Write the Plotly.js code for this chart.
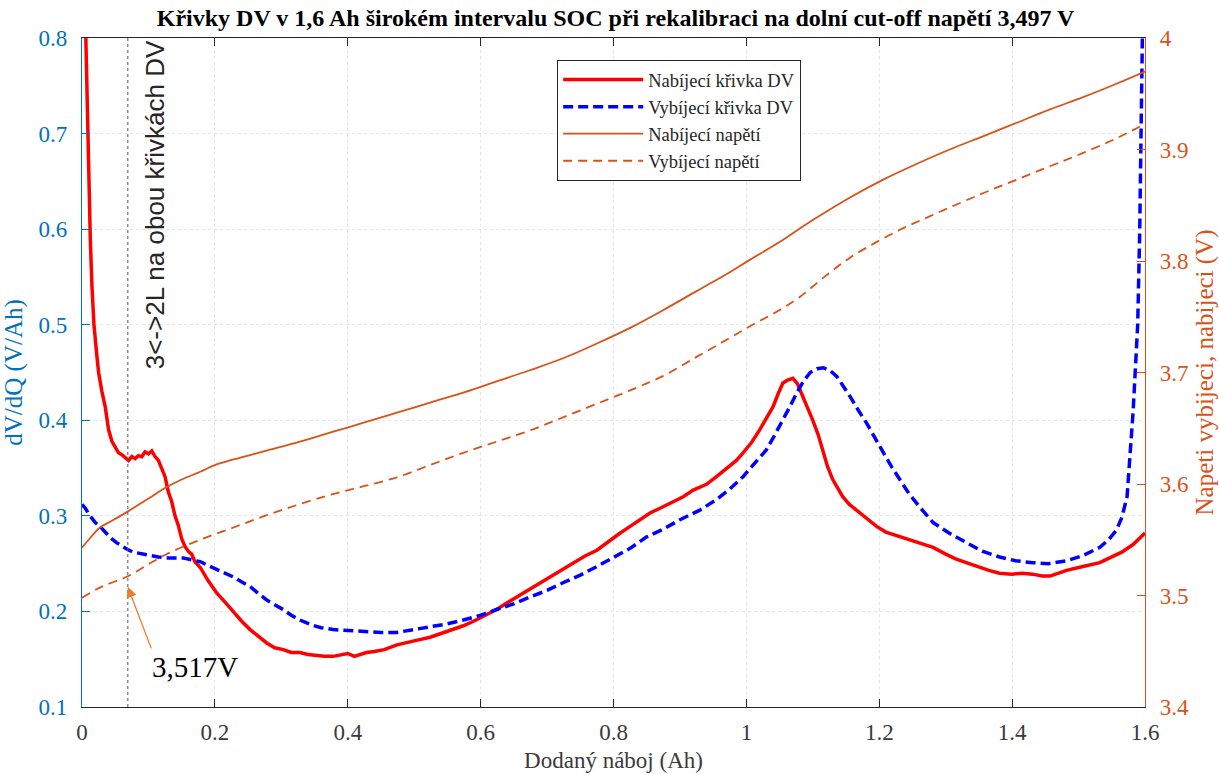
<!DOCTYPE html>
<html>
<head>
<meta charset="utf-8">
<script src="https://cdn.plot.ly/plotly-3.0.1.min.js"></script>
<style>html,body{margin:0;padding:0;background:#fff;}#chart{width:1219px;height:774px;}</style>
</head>
<body>
<div id="chart"></div>
<script>
// Charging DV curve (left axis, V/Ah)
const chargeDvQ = [0,0.004,0.006,0.009,0.0125,0.015,0.018,0.022,0.025,0.03,0.035,0.04,0.045,0.05,0.055,0.06,0.065,0.07,0.075,0.08,0.085,0.09,0.095,0.10,0.105,0.11,0.115,0.12,0.125,0.13,0.135,0.14,0.145,0.15,0.155,0.16,0.165,0.17,0.178,0.19,0.203,0.215,0.228,0.24,0.253,0.265,0.278,0.29,0.303,0.315,0.328,0.34,0.353,0.365,0.378,0.39,0.40,0.41,0.428,0.44,0.455,0.474,0.49,0.505,0.524,0.54,0.557,0.574,0.59,0.607,0.624,0.64,0.657,0.674,0.69,0.707,0.724,0.74,0.757,0.775,0.79,0.808,0.825,0.84,0.855,0.87,0.885,0.905,0.92,0.94,0.955,0.97,0.985,0.995,1.008,1.02,1.03,1.04,1.048,1.055,1.062,1.07,1.077,1.085,1.092,1.10,1.108,1.115,1.122,1.13,1.138,1.145,1.155,1.166,1.18,1.196,1.21,1.227,1.245,1.264,1.281,1.30,1.315,1.331,1.35,1.365,1.381,1.40,1.415,1.431,1.445,1.457,1.47,1.482,1.50,1.515,1.532,1.55,1.565,1.582,1.592,1.60];
const chargeDv = [0.98,0.86,0.80,0.68,0.59,0.54,0.50,0.47,0.45,0.43,0.414,0.39,0.378,0.372,0.366,0.364,0.361,0.358,0.362,0.360,0.363,0.362,0.367,0.365,0.368,0.362,0.358,0.350,0.341,0.325,0.315,0.300,0.290,0.276,0.268,0.263,0.260,0.252,0.246,0.232,0.219,0.210,0.199,0.190,0.181,0.174,0.167,0.162,0.160,0.157,0.157,0.155,0.154,0.153,0.153,0.155,0.156,0.153,0.157,0.158,0.160,0.165,0.168,0.170,0.173,0.177,0.181,0.185,0.190,0.196,0.202,0.209,0.216,0.223,0.230,0.237,0.244,0.251,0.258,0.264,0.272,0.281,0.289,0.296,0.303,0.308,0.313,0.320,0.327,0.333,0.341,0.350,0.358,0.366,0.377,0.390,0.402,0.414,0.428,0.439,0.442,0.444,0.438,0.425,0.413,0.400,0.385,0.369,0.352,0.338,0.328,0.320,0.312,0.306,0.298,0.289,0.283,0.279,0.275,0.271,0.267,0.260,0.255,0.251,0.246,0.243,0.240,0.239,0.240,0.239,0.237,0.237,0.240,0.243,0.246,0.248,0.251,0.257,0.262,0.270,0.276,0.282];

// Discharging DV curve (left axis, V/Ah)
const dischargeDvQ = [0,0.005,0.01,0.015,0.02,0.027,0.035,0.043,0.052,0.06,0.068,0.077,0.09,0.102,0.115,0.127,0.14,0.152,0.165,0.178,0.19,0.203,0.215,0.228,0.24,0.253,0.265,0.278,0.29,0.303,0.315,0.328,0.345,0.36,0.378,0.40,0.428,0.45,0.474,0.50,0.524,0.55,0.574,0.60,0.624,0.65,0.674,0.70,0.724,0.75,0.775,0.80,0.825,0.85,0.875,0.90,0.93,0.955,0.975,0.995,1.012,1.03,1.043,1.055,1.066,1.076,1.086,1.096,1.106,1.116,1.126,1.136,1.146,1.156,1.168,1.181,1.194,1.206,1.218,1.231,1.245,1.26,1.281,1.305,1.331,1.355,1.381,1.405,1.431,1.455,1.482,1.505,1.532,1.545,1.557,1.565,1.573,1.577,1.582,1.586,1.589,1.592,1.594,1.596,1.598];
const dischargeDv = [0.312,0.308,0.302,0.298,0.293,0.289,0.283,0.277,0.272,0.268,0.265,0.262,0.260,0.259,0.257,0.256,0.256,0.256,0.254,0.252,0.248,0.244,0.240,0.236,0.231,0.226,0.219,0.212,0.207,0.202,0.196,0.191,0.186,0.183,0.181,0.180,0.179,0.178,0.178,0.181,0.184,0.187,0.191,0.196,0.202,0.208,0.215,0.222,0.230,0.238,0.247,0.257,0.266,0.278,0.286,0.296,0.306,0.317,0.328,0.341,0.354,0.369,0.385,0.400,0.415,0.429,0.441,0.450,0.454,0.455,0.452,0.446,0.436,0.425,0.411,0.397,0.381,0.366,0.352,0.338,0.323,0.310,0.293,0.282,0.272,0.263,0.257,0.253,0.251,0.250,0.253,0.258,0.267,0.275,0.285,0.298,0.320,0.355,0.408,0.460,0.500,0.596,0.700,0.800,0.900];

// Charging voltage (right axis, V)
const chargeVQ = [0,0.01,0.027,0.045,0.068,0.1,0.127,0.15,0.178,0.2,0.228,0.278,0.328,0.373,0.424,0.474,0.524,0.574,0.624,0.674,0.725,0.775,0.825,0.875,0.925,0.975,1.005,1.05,1.08,1.106,1.156,1.206,1.256,1.306,1.357,1.407,1.457,1.507,1.557,1.6];
const chargeV = [3.543,3.550,3.561,3.567,3.575,3.587,3.597,3.604,3.611,3.617,3.622,3.630,3.638,3.646,3.655,3.664,3.673,3.682,3.692,3.702,3.713,3.726,3.740,3.756,3.773,3.790,3.801,3.817,3.829,3.839,3.857,3.873,3.887,3.900,3.912,3.924,3.936,3.947,3.959,3.970];

// Discharging voltage (right axis, V)
const dischargeVQ = [0,0.03,0.068,0.1,0.127,0.178,0.228,0.278,0.328,0.378,0.424,0.474,0.524,0.574,0.624,0.674,0.725,0.775,0.825,0.875,0.925,0.975,1.013,1.05,1.081,1.118,1.156,1.193,1.231,1.268,1.306,1.357,1.407,1.457,1.507,1.557,1.6];
const dischargeV = [3.498,3.508,3.517,3.528,3.537,3.550,3.561,3.572,3.582,3.591,3.598,3.606,3.617,3.628,3.638,3.648,3.660,3.672,3.684,3.697,3.714,3.731,3.744,3.756,3.768,3.786,3.803,3.816,3.828,3.838,3.848,3.861,3.873,3.885,3.897,3.910,3.923];

const legendNames = ["Nabíjecí křivka DV","Vybíjecí křivka DV","Nabíjecí napětí","Vybíjecí napětí"];
const markerQ = 0.069;
const markerDv = 0.2257;

const SERIF = "Liberation Serif, Times New Roman, serif";
const BLUE_AX = "#0072BD";
const ORANGE = "#D95319";

const traces = [
  {x: chargeDvQ, y: chargeDv, name: legendNames[0], type: "scatter", mode: "lines", yaxis: "y",
   line: {color: "#FF0000", width: 3.5}},
  {x: dischargeDvQ, y: dischargeDv, name: legendNames[1], type: "scatter", mode: "lines", yaxis: "y",
   line: {color: "#0000FF", width: 3.5, dash: "10px,5px"}},
  {x: chargeVQ, y: chargeV, name: legendNames[2], type: "scatter", mode: "lines", yaxis: "y2",
   line: {color: ORANGE, width: 1.8, shape: "spline"}},
  {x: dischargeVQ, y: dischargeV, name: legendNames[3], type: "scatter", mode: "lines", yaxis: "y2",
   line: {color: ORANGE, width: 1.8, dash: "9px,6px", shape: "spline"}}
];

const gridCol = "rgba(0,0,0,0.10)";
const layout = {
  width: 1219, height: 774,
  margin: {l: 82, r: 74, t: 38, b: 67, pad: 0},
  paper_bgcolor: "#fff", plot_bgcolor: "#fff",
  showlegend: true,
  title: {text: "<b>Křivky DV v 1,6 Ah širokém intervalu SOC při rekalibraci na dolní cut-off napětí 3,497 V</b>",
          font: {family: SERIF, size: 24, color: "#000"}, x: 0.505, xanchor: "center", y: 0.977, yanchor: "middle"},
  xaxis: {range: [0, 1.6], dtick: 0.2, tick0: 0, showline: true, linecolor: "#262626", linewidth: 1,
          mirror: "ticks", ticks: "inside", ticklen: 8, tickcolor: "#262626", showgrid: true, gridcolor: gridCol,
          griddash: "dot", zeroline: false, ticklabelstandoff: 4, tickfont: {family: SERIF, size: 23, color: "#3a3a3a"},
          title: {text: "Dodaný náboj (Ah)", font: {family: SERIF, size: 23, color: "#3a3a3a"}, standoff: 8}},
  yaxis: {range: [0.1, 0.8], dtick: 0.1, tick0: 0.1, showline: true, linecolor: BLUE_AX, linewidth: 1.2,
          ticks: "inside", ticklen: 8, tickcolor: BLUE_AX, showgrid: true, gridcolor: gridCol, griddash: "dot",
          zeroline: false, ticklabelstandoff: 9, tickfont: {family: SERIF, size: 23, color: BLUE_AX},
          title: {text: "dV/dQ (V/Ah)", font: {family: SERIF, size: 25, color: BLUE_AX}, standoff: 8}},
  yaxis2: {range: [3.4, 4.0], dtick: 0.1, tick0: 3.4, overlaying: "y", side: "right", showline: true,
           linecolor: ORANGE, linewidth: 1.2, ticks: "inside", ticklen: 8, tickcolor: ORANGE, showgrid: false,
           zeroline: false, ticklabelstandoff: 9, tickfont: {family: SERIF, size: 23, color: ORANGE},
           title: {text: "Napeti vybijeci, nabijeci (V)", font: {family: SERIF, size: 25, color: ORANGE}, standoff: 8}},
  legend: {x: 0.447, y: 0.967, xanchor: "left", yanchor: "top", bgcolor: "#fff", bordercolor: "#262626",
           borderwidth: 1, font: {family: SERIF, size: 18.5, color: "#262626"}, itemwidth: 80, tracegroupgap: 0},
  shapes: [
    {type: "line", xref: "x", yref: "paper", x0: markerQ, x1: markerQ, y0: 0, y1: 1,
     line: {color: "#555", width: 1, dash: "dot"}}
  ],
  annotations: [
    {xref: "x", yref: "y", x: 0.11, y: 0.625, text: "3<->2L na obou křivkách DV", showarrow: false,
     textangle: -90, font: {family: "Liberation Sans, Arial, sans-serif", size: 26, color: "#262626"}},
    {xref: "x", yref: "y", x: markerQ, y: markerDv, ax: 24, ay: 63, text: "", showarrow: true,
     arrowcolor: "#ED7D31", arrowhead: 2, arrowsize: 1.6, arrowwidth: 1.3},
    {xref: "x", yref: "y", x: 0.170, y: 0.142, text: "3,517V", showarrow: false,
     font: {family: SERIF, size: 29, color: "#000"}}
  ]
};

Plotly.newPlot("chart", traces, layout, {displayModeBar: false, staticPlot: true});
</script>
</body>
</html>
